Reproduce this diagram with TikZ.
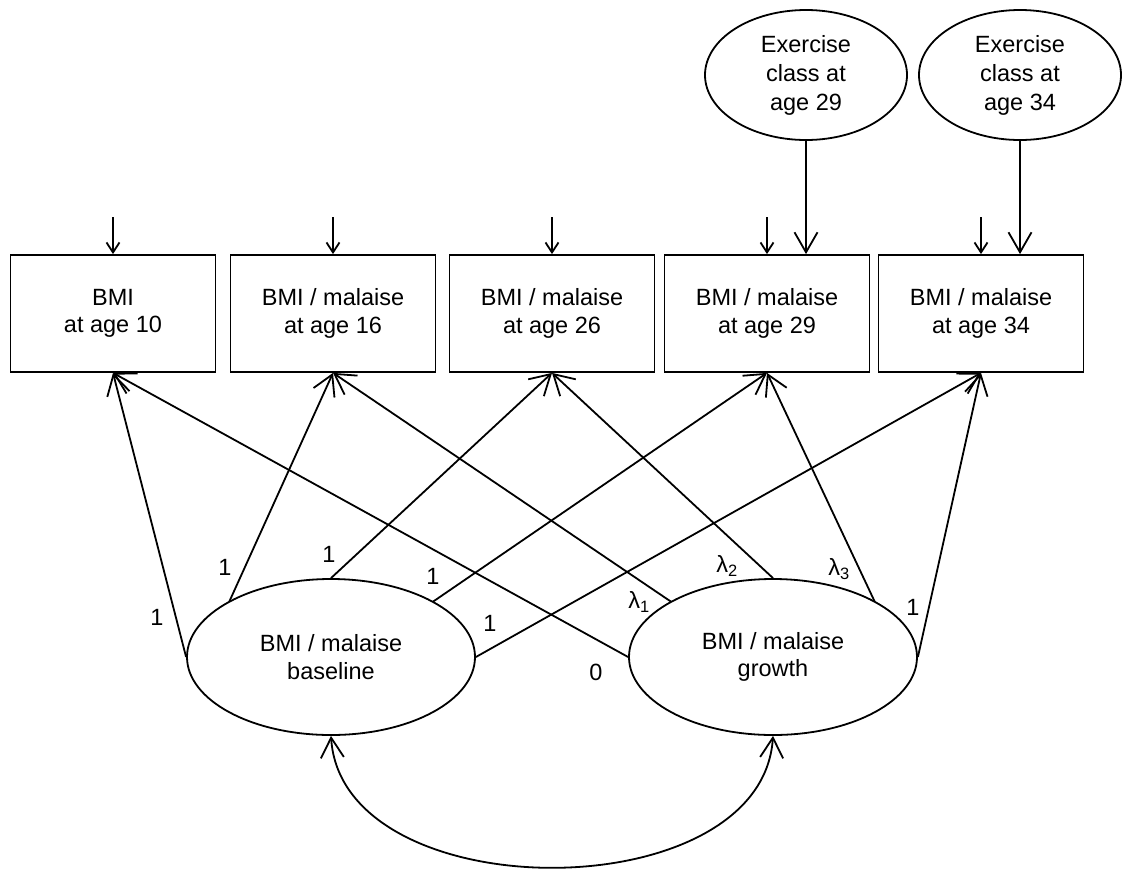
\documentclass[tikz,border=0pt]{standalone}
\usepackage{fontspec}
\setmainfont{Liberation Sans}
\usetikzlibrary{arrows.meta,calc,shapes.geometric}
\begin{document}
\begin{tikzpicture}[x=1pt,y=-1pt,
  every node/.style={font=\fontsize{23.5}{27.5}\selectfont},
  obs/.style={draw, line width=1.8pt, rectangle, minimum width=205pt,
    minimum height=117pt, align=center, inner sep=0pt},
  lat/.style={draw, line width=1.8pt, ellipse, align=center, inner sep=0pt,
    minimum width=288pt, minimum height=156pt},
  cov/.style={draw, line width=1.8pt, ellipse, align=center, inner sep=0pt,
    minimum width=202pt, minimum height=130pt,
    font=\fontsize{23.5}{29}\selectfont},
  path/.style={-{Straight Barb[length=20pt,width=23pt]}, line width=1.8pt},
  resid/.style={-{Straight Barb[length=10pt,width=13pt]}, line width=1.8pt},
  lbl/.style={inner sep=0pt}
]
\useasboundingbox (0,0) rectangle (1138,868);

% observed measures
\node[obs] (b1) at (113,313.5) {BMI\\at age 10};
\node[obs] (b2) at (333,313.5) {BMI / malaise\\at age 16};
\node[obs] (b3) at (552,313.5) {BMI / malaise\\at age 26};
\node[obs] (b4) at (767,313.5) {BMI / malaise\\at age 29};
\node[obs] (b5) at (981,313.5) {BMI / malaise\\at age 34};

% time-varying covariates
\node[cov] (ex1) at (806,75) {Exercise\\class at\\age 29};
\node[cov] (ex2) at (1020,75) {Exercise\\class at\\age 34};

% growth factors
\node[lat] (base) at (331,657) {BMI / malaise\\baseline};
\node[lat] (grow) at (773,657) {BMI / malaise\\growth};

% points on the factor ellipses at 135 and 45 degrees
\coordinate (base-nw) at ($(base.center)+(-101.8,-55.2)$);
\coordinate (base-ne) at ($(base.center)+(101.8,-55.2)$);
\coordinate (grow-nw) at ($(grow.center)+(-101.8,-55.2)$);
\coordinate (grow-ne) at ($(grow.center)+(101.8,-55.2)$);

% residual arrows
\foreach \b in {b1,b2,b3,b4,b5}{
  \coordinate (\b-e) at ($(\b.north)+(0,-37)$);
  \draw[resid] (\b-e) -- (\b.north);
}

% covariate effects
\draw[path] (ex1.south) -- (ex1.south |- b4.north);
\draw[path] (ex2.south) -- (ex2.south |- b5.north);

% baseline loadings
\draw[path] (base.west) -- (b1.south);
\draw[path] (base-nw) -- (b2.south);
\draw[path] (base.north) -- (b3.south);
\draw[path] (base-ne) -- (b4.south);
\draw[path] (base.east) -- (b5.south);

% growth loadings
\draw[path] (grow.west) -- (b1.south);
\draw[path] (grow-nw) -- (b2.south);
\draw[path] (grow.north) -- (b3.south);
\draw[path] (grow-ne) -- (b4.south);
\draw[path] (grow.east) -- (b5.south);

% factor covariance
\draw[{Straight Barb[length=20pt,width=23pt]}-{Straight Barb[length=20pt,width=23pt]}, line width=1.8pt]
  (base.south) .. controls ($(base.south)+(11,175)$) and ($(grow.south)+(-11,175)$) .. (grow.south);

% loading labels
\node[lbl] (l1) at (157,617) {1};
\node[lbl] (l2) at (225,567) {1};
\node[lbl] (l3) at (329,554) {1};
\node[lbl] (l4) at (433,576) {1};
\node[lbl] (l5) at (490,623) {1};
\node[lbl] (g1) at (596,672) {0};
\node[lbl] (g2) at (639,602) {λ\textsubscript{1}};
\node[lbl] (g3) at (727,566) {λ\textsubscript{2}};
\node[lbl] (g4) at (839,569) {λ\textsubscript{3}};
\node[lbl] (g5) at (913,607) {1};
\end{tikzpicture}
\end{document}
